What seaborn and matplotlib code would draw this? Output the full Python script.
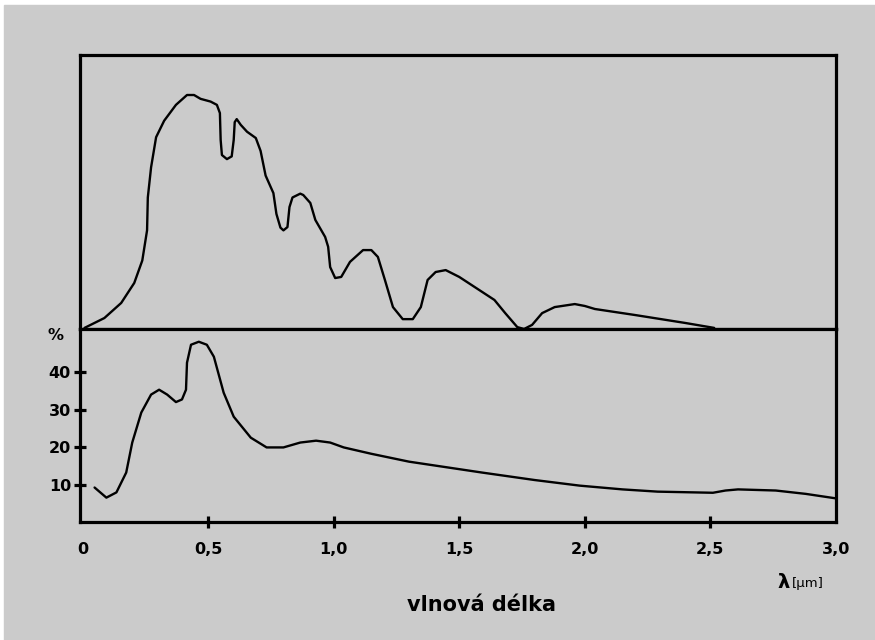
import seaborn as sns
import matplotlib.pyplot as plt
import matplotlib.patches as mpatches
import pandas as pd

sns.set_style("white")
plt.rcParams['font.family'] = ['DejaVu Sans']
plt.rcParams['text.color'] = 'black'

# top panel: relative spectral intensity (no scale)
top_wl = [0.008, 0.087, 0.154, 0.206, 0.238, 0.257, 0.26, 0.273, 0.293, 0.325,
          0.372, 0.416, 0.444, 0.47, 0.51, 0.535, 0.547, 0.55, 0.555, 0.575,
          0.594, 0.602, 0.606, 0.614, 0.63, 0.655, 0.69, 0.709, 0.729, 0.76,
          0.772, 0.788, 0.80, 0.816, 0.824, 0.836, 0.867, 0.879, 0.907, 0.927,
          0.966, 0.978, 0.986, 1.006, 1.03, 1.065, 1.117, 1.15, 1.176, 1.204,
          1.236, 1.275, 1.315, 1.347, 1.374, 1.406, 1.446, 1.50, 1.58, 1.64,
          1.683, 1.731, 1.758, 1.79, 1.83, 1.88, 1.96, 2.00, 2.04, 2.20, 2.40,
          2.515]
top_val = [0.4, 4.0, 9.5, 16.8, 25.0, 36.0, 48.0, 59.0, 70.0, 76.0,
           81.8, 85.4, 85.4, 84.0, 83.0, 81.8, 78.8, 69.0, 63.5, 62.0,
           63.0, 69.0, 75.5, 76.6, 74.5, 72.0, 69.7, 65.0, 56.0, 49.6,
           42.0, 37.0, 36.0, 37.2, 44.5, 48.0, 49.4, 48.9, 46.0, 39.8,
           33.6, 30.0, 22.6, 18.6, 19.0, 24.5, 28.8, 28.8, 26.3, 17.9,
           8.0, 3.6, 3.6, 8.0, 17.9, 20.8, 21.5, 19.0, 14.2, 10.6,
           5.8, 0.7, 0.0, 1.5, 5.8, 8.0, 9.1, 8.4, 7.3, 5.1, 2.2,
           0.4]

# bottom panel: percentage
bot_wl = [0.048, 0.095, 0.135, 0.174, 0.198, 0.234, 0.273, 0.305, 0.337, 0.372,
          0.396, 0.412, 0.416, 0.432, 0.463, 0.495, 0.523, 0.562, 0.602, 0.67,
          0.733, 0.80, 0.867, 0.93, 0.986, 1.04, 1.15, 1.30, 1.45, 1.59,
          1.80, 1.98, 2.15, 2.29, 2.51, 2.56, 2.61, 2.76, 2.88, 3.00]
bot_val = [9.2, 6.5, 7.9, 13.2, 21.2, 29.2, 34.0, 35.3, 34.0, 32.0,
           32.7, 35.3, 42.5, 47.3, 48.1, 47.3, 44.1, 34.5, 28.1, 22.5,
           19.9, 19.9, 21.2, 21.7, 21.2, 19.9, 18.2, 16.1, 14.6, 13.2,
           11.2, 9.7, 8.7, 8.1, 7.8, 8.4, 8.7, 8.4, 7.5, 6.3]

xticks = [0, 0.5, 1.0, 1.5, 2.0, 2.5, 3.0]
xtick_labels = ["0", "0,5", "1,0", "1,5", "2,0", "2,5", "3,0"]
yticks = [10, 20, 30, 40]

top_df = pd.DataFrame({"wl": top_wl, "val": top_val})
bot_df = pd.DataFrame({"wl": bot_wl, "val": bot_val})

bg = "#cbcbcb"
fig = plt.figure(figsize=(8.75, 6.4), dpi=100)
fig.patch.set_facecolor("white")
fig.patches.append(mpatches.Rectangle((4 / 875, 0), 1, 1 - 5 / 640,
                                      transform=fig.transFigure,
                                      color=bg, zorder=-10))

L, R = 80 / 875, 836 / 875
ax_top = fig.add_axes([L, 1 - 329 / 640, R - L, 274 / 640])
ax_bot = fig.add_axes([L, 1 - 522 / 640, R - L, 193 / 640], sharex=ax_top)

for ax in (ax_top, ax_bot):
    ax.set_facecolor(bg)
    for s in ax.spines.values():
        s.set_linewidth(2.3)
        s.set_color("black")

sns.lineplot(data=top_df, x="wl", y="val", ax=ax_top, color="black",
             linewidth=1.7, sort=False, solid_joinstyle="round",
             solid_capstyle="round")
sns.lineplot(data=bot_df, x="wl", y="val", ax=ax_bot, color="black",
             linewidth=1.7, sort=False, solid_joinstyle="round",
             solid_capstyle="round")

ax_top.set_xlim(-0.01, 3.0)
ax_top.set_ylim(0, 100)
ax_top.set_yticks([])
ax_top.tick_params(axis="x", bottom=False, labelbottom=False)
ax_top.set_xlabel("")
ax_top.set_ylabel("")

ax_bot.set_ylim(0, 51.5)
ax_bot.set_yticks(yticks)
ax_bot.set_yticklabels([str(v) for v in yticks], fontweight="bold", fontsize=11.5)
ax_bot.set_xticks(xticks)
ax_bot.set_xticklabels(xtick_labels, fontweight="bold", fontsize=11.5)
ax_bot.tick_params(axis="both", direction="inout", length=9, width=2.3,
                   colors="black", bottom=True, left=True)
ax_bot.tick_params(axis="x", pad=10)
ax_bot.tick_params(axis="y", pad=2)
ax_bot.set_xlabel("")
ax_bot.set_ylabel("")
# no tick marks at the frame corners
for t in (ax_bot.xaxis.get_major_ticks()[0], ax_bot.xaxis.get_major_ticks()[-1]):
    t.tick1line.set_visible(False)

fig.text(55 / 875, 1 - 335 / 640, "%", fontsize=11.5, fontweight="bold",
         ha="center", va="center")
fig.text(790 / 875, 1 - 582 / 640, "λ", fontsize=14, fontweight="bold",
         ha="right", va="center")
fig.text(792 / 875, 1 - 583 / 640, "[μm]", fontsize=9.5,
         ha="left", va="center")
fig.text(482 / 875, 1 - 605 / 640, "vlnová délka", fontsize=15,
         fontweight="bold", ha="center", va="center")

fig.savefig("out.png", dpi=100, facecolor=fig.get_facecolor())
plt.close()
